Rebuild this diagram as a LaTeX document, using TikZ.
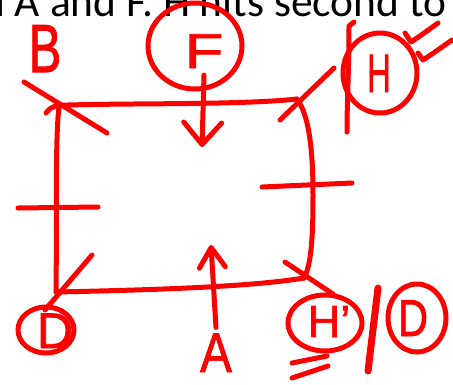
\documentclass[tikz,border=0pt]{standalone}
\usepackage{fontspec}
\setmainfont{Carlito}
\newfontfamily\hand[FakeBold=1.6]{Liberation Sans}
\usetikzlibrary{shapes.geometric,arrows.meta}
\begin{document}
\begin{tikzpicture}[x=1pt,y=-1pt,
  pen/.style={draw=red, line width=5pt, line cap=round, line join=round},
  ring/.style={ellipse, draw=red, line width=5pt, inner sep=0pt, outer sep=0pt},
  letter/.style={text=red, inner sep=0pt, outer sep=0pt, anchor=base},
  downarrow/.style={pen, -{Straight Barb[length=22pt,width=38pt,round]}},
  uparrow/.style={pen, -{Straight Barb[length=20pt,width=26pt,round]}}]
\useasboundingbox (0,0) rectangle (453,384);
\fill[white] (0,0) rectangle (453,384);
% caption (cut at the top)
\node[anchor=base west, inner sep=0pt, font=\fontsize{43.5}{50}\selectfont] (caption) at (-5,16) {l A and F. H hits second to};
% rectangle
\coordinate (TL) at (59,107);
\coordinate (TR) at (297,99);
\coordinate (BR) at (304,278);
\coordinate (BL) at (56,292);
\draw[pen] (46,113) .. controls (50,107) and (55,105) .. (68,105) .. controls (140,103) and (240,105) .. (TR);
\draw[pen] (TR) .. controls (309,115) and (313,150) .. (313,195) .. controls (313,240) and (311,265) .. (BR);
\draw[pen] (BR) .. controls (250,287) and (150,290) .. (BL);
\draw[pen] (TL) .. controls (55,140) and (57,220) .. (BL);
% ticks
\coordinate (lt1) at (18,208); \coordinate (lt2) at (98,207);
\coordinate (rt1) at (262,187); \coordinate (rt2) at (352,183);
\draw[pen] (lt1) -- (lt2);
\draw[pen] (rt1) -- (rt2);
% rings
\node[ring, minimum width=94pt, minimum height=86pt] (Fring) at (195,46) {};
\node[ring, minimum width=74pt, minimum height=80pt] (Hring) at (380,73) {};
\node[ring, minimum width=56pt, minimum height=46pt] (Dlring) at (46,330) {};
\node[ring, minimum width=74pt, minimum height=56pt] (Hpring) at (325,323) {};
\node[ring, minimum width=58pt, minimum height=68pt] (Drring) at (417,318) {};
% letters
\node[letter, font=\hand\fontsize{68}{68}\selectfont] (B) at (45,72) {\scalebox{0.72}[1]{B}};
\node[letter, font=\hand\fontsize{49}{49}\selectfont] (F) at (204,68) {\scalebox{1.3}[1]{F}};
\node[letter, font=\hand\fontsize{56}{56}\selectfont] (A) at (216,372) {\scalebox{0.85}[1]{A}};
\node[letter, font=\hand\fontsize{54}{54}\selectfont] (H) at (379,92) {\scalebox{0.6}[1]{H}};
\node[letter, font=\hand\fontsize{45}{45}\selectfont] (Hp) at (329,337) {H\textquoteright};
\node[letter, font=\hand\fontsize{50}{50}\selectfont] (Dl) at (55,348) {D};
\node[letter, font=\hand\fontsize{52}{52}\selectfont] (Dr) at (413,336) {\scalebox{0.8}[1]{D}};
% arrows
\coordinate (Ftip) at (202,147);
\coordinate (Atip) at (211,245);
\draw[downarrow] ([yshift=-7pt]F.south) -- (Ftip);
\draw[uparrow] ([yshift=6pt]A.north) -- (Atip);
% corner diagonals
\coordinate (d1a) at (24,82); \coordinate (d1b) at (107,133);
\coordinate (d2a) at (280,120); \coordinate (d2b) at (334,68);
\coordinate (d3a) at (92,255); \coordinate (d3b) at (45,310);
\coordinate (d4a) at (285,262); \coordinate (d4b) at (333,294);
\draw[pen] (d1a) -- (d1b);
\draw[pen] (d2a) -- (d2b);
\draw[pen] (d3a) -- (d3b);
\draw[pen] (d4a) -- (d4b);
% vertical stroke by H and check marks
\coordinate (v1) at (354,22); \coordinate (v2) at (349,26); \coordinate (v3) at (347,132);
\draw[pen] (v1) -- (v2) .. controls (349,70) and (347,100) .. (v3);
\coordinate (c1a) at (405,33); \coordinate (c1b) at (411,42); \coordinate (c1c) at (438,23);
\coordinate (c2a) at (418,53); \coordinate (c2b) at (423,60); \coordinate (c2c) at (452,40);
\draw[pen] (c1a) -- (c1b) .. controls (420,36) .. (c1c);
\draw[pen] (c2a) -- (c2b) .. controls (435,52) .. (c2c);
% underline strokes and slash
\coordinate (u1a) at (292,363); \coordinate (u1b) at (327,356);
\coordinate (u2a) at (292,378); \coordinate (u2b) at (328,366);
\draw[pen] (u1a) -- (u1b);
\draw[pen] (u2a) -- (u2b);
\coordinate (s1) at (378,288); \coordinate (s2) at (368,371);
\draw[pen, line width=7pt] (s1) -- (s2);
\end{tikzpicture}
\end{document}
